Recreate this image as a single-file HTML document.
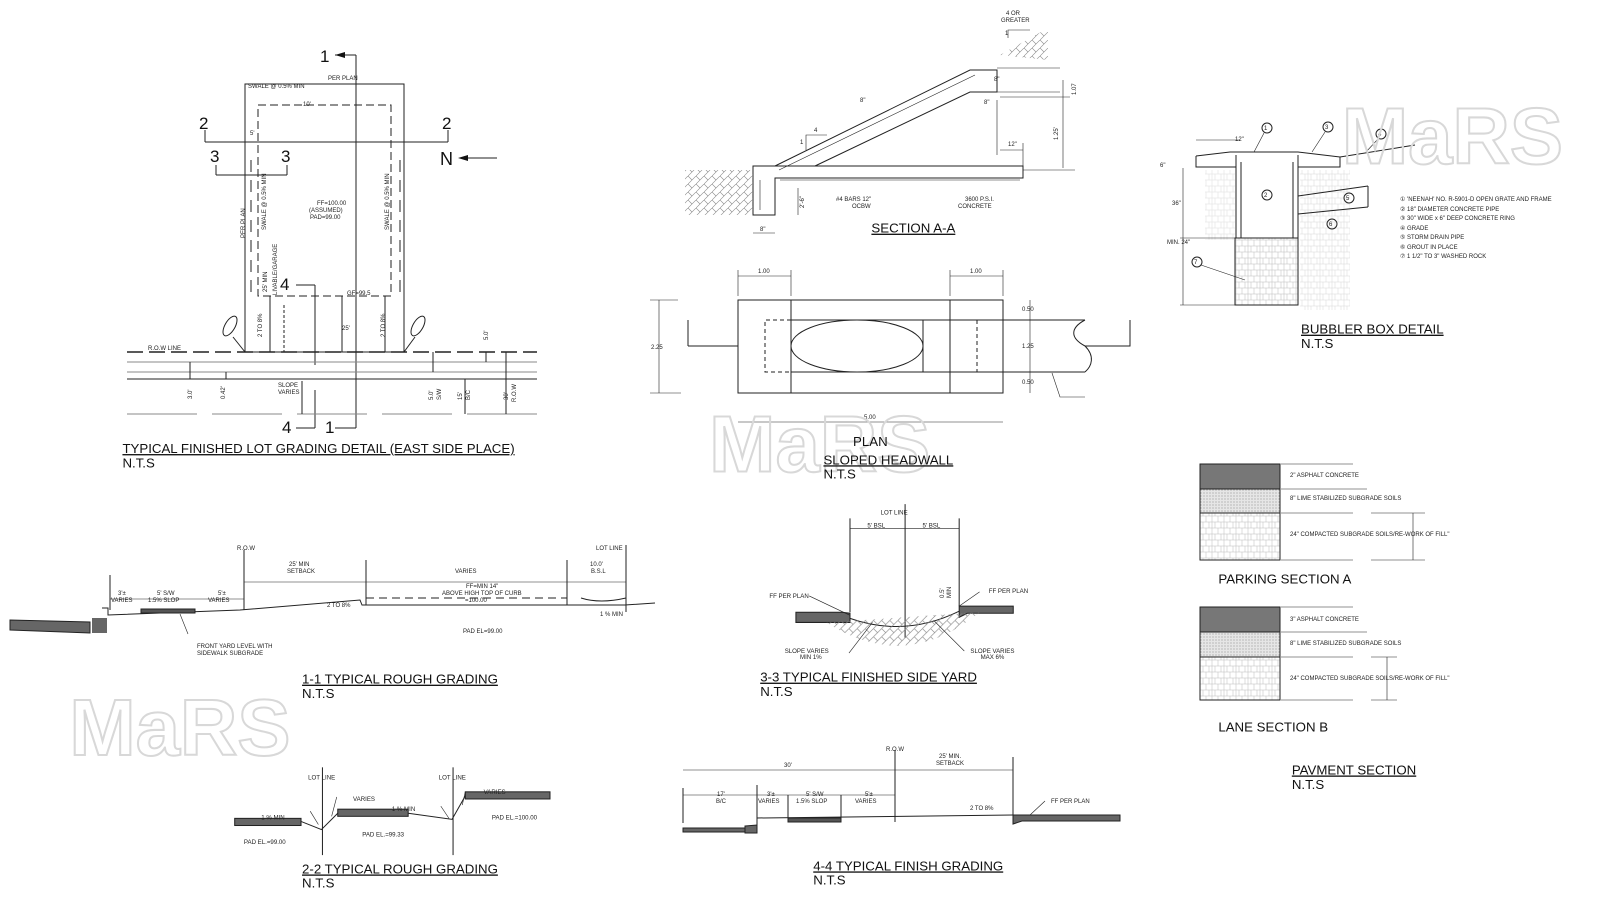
<!DOCTYPE html>
<html><head><meta charset="utf-8"><style>
html,body{margin:0;padding:0;background:#fff;}
svg{display:block;font-family:"Liberation Sans",sans-serif;}
.s{font-size:6px;fill:#222;}
.t{font-size:13px;fill:#111;}
.wm{font-size:78px;font-weight:bold;fill:none;stroke:#d8d8d8;stroke-width:2;font-family:"Liberation Sans",sans-serif;}
</style></head><body>
<svg width="1600" height="900" viewBox="0 0 1600 900" xmlns="http://www.w3.org/2000/svg">
<defs>
<pattern id="hx" width="8" height="8" patternUnits="userSpaceOnUse">
<path d="M0 8L8 0M0 0L4 4" stroke="#888" stroke-width="0.6"/>
</pattern>
<pattern id="br" width="12" height="12" patternUnits="userSpaceOnUse">
<path d="M0 0H12V12H0Z M6 0V6 M0 6H12 M3 6V12 M9 6V12" stroke="#bbb" stroke-width="0.5" fill="none"/>
</pattern>
<pattern id="dt" width="3" height="3" patternUnits="userSpaceOnUse">
<rect width="3" height="3" fill="#e6e6e6"/><circle cx="1" cy="1" r="0.6" fill="#999"/>
</pattern>
</defs>
<rect width="1600" height="900" fill="#fff"/>

<g stroke="#222" stroke-width="1" fill="none">
<!-- LOT GRADING -->
<rect x="245" y="84" width="159" height="268"/>
<rect x="258" y="105" width="133" height="191" stroke-dasharray="8,4"/>
<line x1="356" y1="55" x2="356" y2="428"/>
<line x1="335" y1="55" x2="356" y2="55"/>
<line x1="335" y1="428" x2="356" y2="428"/>
<line x1="205" y1="142" x2="448" y2="142"/>
<line x1="205" y1="142" x2="205" y2="130"/><line x1="448" y1="142" x2="448" y2="130"/>
<line x1="216" y1="175" x2="287" y2="175"/>
<line x1="216" y1="175" x2="216" y2="165"/><line x1="287" y1="175" x2="287" y2="165"/>
<line x1="315" y1="285" x2="315" y2="365"/><line x1="315" y1="390" x2="315" y2="428"/>
<line x1="296" y1="285" x2="315" y2="285"/><line x1="296" y1="428" x2="315" y2="428"/>
<line x1="465" y1="158" x2="497" y2="158"/>
<line x1="127" y1="352" x2="537" y2="352" stroke-width="1.5" stroke-dasharray="16,6"/>
<line x1="127" y1="362" x2="537" y2="362" stroke="#888"/>
<line x1="127" y1="372" x2="537" y2="372" stroke="#888"/>
<line x1="127" y1="379" x2="537" y2="379"/>
<line x1="127" y1="414" x2="537" y2="414" stroke="#888" stroke-dasharray="70,15"/>
<line x1="270" y1="296" x2="270" y2="352"/><line x1="342" y1="296" x2="342" y2="352"/><line x1="385" y1="296" x2="385" y2="352"/>
<line x1="251" y1="160" x2="251" y2="300" stroke-dasharray="12,8"/>
<line x1="400" y1="160" x2="400" y2="300" stroke-dasharray="12,8"/>
<line x1="284" y1="305" x2="284" y2="352" stroke-dasharray="3,2"/>
<ellipse cx="230" cy="326" rx="5" ry="11" transform="rotate(30 230 326)"/>
<ellipse cx="418" cy="326" rx="5" ry="11" transform="rotate(30 418 326)"/>
<line x1="233" y1="337" x2="245" y2="352"/><line x1="415" y1="337" x2="404" y2="352"/>
<line x1="190" y1="362" x2="190" y2="379"/><line x1="226" y1="372" x2="226" y2="379"/>
<line x1="433" y1="352" x2="433" y2="372"/><line x1="465" y1="379" x2="465" y2="414"/><line x1="506" y1="352" x2="506" y2="414"/><line x1="486" y1="352" x2="486" y2="362"/>
<line x1="302" y1="381" x2="302" y2="414"/>

<!-- SECTION A-A -->
<path d="M753 166 H1023 V178 H775 V215 H753 Z"/>
<path d="M775 166 L970 70 H997 V92 H970 L815 166" />
<line x1="780" y1="180" x2="1020" y2="180" stroke-width="0.6"/>
<line x1="760" y1="180" x2="760" y2="210" stroke-width="0.6"/>
<line x1="779" y1="170" x2="975" y2="75" stroke-width="0.6"/>
<rect x="685" y="170" width="68" height="45" fill="url(#hx)" stroke="none"/>
<path d="M1000 55 L1048 28 V60 Z" fill="url(#hx)" stroke="none"/>
<line x1="997" y1="68" x2="1060" y2="68" stroke-width="0.6"/>
<line x1="997" y1="92" x2="1060" y2="92" stroke-width="0.6"/>
<line x1="1000" y1="97" x2="1070" y2="97" stroke-width="0.6"/>
<line x1="1063" y1="80" x2="1063" y2="100" stroke-width="0.6"/>
<line x1="1063" y1="100" x2="1063" y2="168" stroke-width="0.6"/>
<line x1="1023" y1="170" x2="1075" y2="170" stroke-width="0.6"/>
<line x1="997" y1="100" x2="997" y2="155" stroke-width="0.6"/>
<line x1="1000" y1="150" x2="1023" y2="150" stroke-width="0.6"/>
<line x1="1023" y1="143" x2="1023" y2="166" stroke-width="0.6"/>
<line x1="753" y1="233" x2="775" y2="233" stroke-width="0.6"/>
<line x1="798" y1="188" x2="798" y2="215" stroke-width="0.6"/>
<path d="M806 150 V135 H827" stroke-width="0.6"/>
<path d="M1008 38 V30 H1030" stroke-width="0.6"/>

<!-- PLAN -->
<rect x="738" y="300" width="265" height="93"/>
<line x1="791" y1="300" x2="791" y2="393"/>
<line x1="950" y1="300" x2="950" y2="393"/>
<line x1="791" y1="320" x2="1085" y2="320"/>
<line x1="791" y1="372" x2="1085" y2="372"/>
<path d="M791 320 H765 V372 H791" stroke-dasharray="4,3"/>
<line x1="923" y1="320" x2="923" y2="372"/>
<line x1="977" y1="320" x2="977" y2="372" stroke-dasharray="4,3"/>
<ellipse cx="857" cy="346" rx="66" ry="26"/>
<path d="M1085 320 C1070 328 1070 338 1085 346 C1095 356 1092 366 1085 372"/>
<path d="M1085 346 H1130 V320"/>
<path d="M688 346 H738"/><line x1="688" y1="346" x2="688" y2="320"/>
<line x1="738" y1="276" x2="791" y2="276" stroke-width="0.6"/>
<line x1="950" y1="276" x2="1003" y2="276" stroke-width="0.6"/>
<line x1="738" y1="270" x2="738" y2="296" stroke-width="0.6"/>
<line x1="791" y1="270" x2="791" y2="296" stroke-width="0.6"/>
<line x1="950" y1="270" x2="950" y2="296" stroke-width="0.6"/>
<line x1="1003" y1="270" x2="1003" y2="296" stroke-width="0.6"/>
<line x1="738" y1="422" x2="1003" y2="422" stroke-width="0.6"/>
<line x1="659" y1="300" x2="659" y2="393" stroke-width="0.6"/>
<line x1="650" y1="300" x2="678" y2="300" stroke-width="0.6"/>
<line x1="650" y1="393" x2="681" y2="393" stroke-width="0.6"/>
<line x1="1030" y1="300" x2="1030" y2="393" stroke-width="0.6"/>
<path d="M1052 373 L1060 397 H1085" stroke-width="0.6"/>

<!-- BUBBLER -->
<path d="M1196 156 L1230 152 H1298 L1340 157 L1415 145" />
<path d="M1196 156 V167 H1236 M1298 167 H1340 V157"/>
<line x1="1236" y1="155" x2="1236" y2="238"/><line x1="1241" y1="162" x2="1241" y2="238"/>
<line x1="1293" y1="162" x2="1293" y2="238"/><line x1="1298" y1="155" x2="1298" y2="238"/>
<rect x="1235" y="238" width="63" height="67" fill="url(#br)"/>
<rect x="1300" y="170" width="50" height="140" fill="url(#br)" stroke="none" opacity="0.6"/>
<rect x="1205" y="170" width="30" height="70" fill="url(#br)" stroke="none" opacity="0.5"/>
<line x1="1298" y1="196" x2="1368" y2="186"/><line x1="1298" y1="214" x2="1368" y2="207"/>
<line x1="1368" y1="186" x2="1368" y2="207"/>
<line x1="1183" y1="168" x2="1183" y2="305" stroke-width="0.6"/>
<line x1="1180" y1="238" x2="1235" y2="238" stroke-width="0.6"/>
<line x1="1180" y1="305" x2="1235" y2="305" stroke-width="0.6"/>
<line x1="1196" y1="140" x2="1240" y2="140" stroke-width="0.6"/>
<circle cx="1267" cy="128" r="5"/><circle cx="1328" cy="127" r="5"/><circle cx="1381" cy="134" r="5"/>
<circle cx="1267" cy="195" r="5"/><circle cx="1349" cy="198" r="5"/><circle cx="1332" cy="224" r="5"/><circle cx="1197" cy="262" r="5"/>
<line x1="1264" y1="133" x2="1254" y2="152" stroke-width="0.6"/>
<line x1="1325" y1="132" x2="1312" y2="152" stroke-width="0.6"/>
<line x1="1378" y1="139" x2="1366" y2="152" stroke-width="0.6"/>
<line x1="1201" y1="265" x2="1245" y2="280" stroke-width="0.6"/>

<!-- 1-1 -->
<path d="M102 608 L108 608 L108 615 L240 610 L360 600 L362 605 H625 L655 603" />
<path d="M10 630 L90 633 V622 L10 620 Z" fill="#666"/>
<rect x="92" y="618" width="15" height="15" fill="#666" stroke="none"/>
<rect x="141" y="609" width="54" height="4" fill="#555"/>
<line x1="110" y1="575" x2="110" y2="610"/>
<line x1="244" y1="550" x2="244" y2="610"/>
<line x1="366" y1="560" x2="366" y2="605"/>
<line x1="567" y1="560" x2="567" y2="605"/>
<line x1="626" y1="545" x2="626" y2="612"/>
<line x1="110" y1="599" x2="244" y2="599" stroke-width="0.6"/>
<line x1="244" y1="582" x2="626" y2="582" stroke-width="0.6"/>
<line x1="366" y1="598" x2="567" y2="598" stroke-dasharray="8,5"/>
<path d="M581 598 Q600 604 626 598"/>
<line x1="180" y1="614" x2="188" y2="634" stroke-width="0.6"/>

<!-- 4-4 -->
<line x1="683" y1="770" x2="1013" y2="770" stroke-width="0.6"/>
<line x1="683" y1="795" x2="895" y2="795" stroke-width="0.6"/>
<line x1="683" y1="788" x2="683" y2="823"/>
<line x1="757" y1="785" x2="757" y2="825"/><line x1="788" y1="795" x2="788" y2="822"/>
<line x1="841" y1="795" x2="841" y2="820"/><line x1="895" y1="750" x2="895" y2="822"/>
<line x1="1013" y1="757" x2="1013" y2="818"/>
<path d="M683 828 H745 V832 H683 Z" fill="#666"/>
<path d="M745 826 L757 825 V833 H745 Z" fill="#666"/>
<path d="M757 818 L1013 815"/>
<rect x="788" y="818" width="53" height="4" fill="#555"/>
<path d="M1013 815 H1120 V821 H1022 L1013 824 Z" fill="#666"/>
<line x1="1030" y1="815" x2="1045" y2="801" stroke-width="0.6"/>

<!-- PAVEMENT -->
<rect x="1200" y="464" width="80" height="25" fill="#777"/>
<rect x="1200" y="489" width="80" height="24" fill="url(#dt)"/>
<rect x="1200" y="513" width="80" height="47" fill="url(#br)"/>
<rect x="1200" y="607" width="80" height="25" fill="#777"/>
<rect x="1200" y="632" width="80" height="25" fill="url(#dt)"/>
<rect x="1200" y="657" width="80" height="43" fill="url(#br)"/>
<g stroke-width="0.6">
<path d="M1281 464 H1353 M1281 489 H1367 M1281 513 H1353 M1371 513 H1425 M1281 560 H1353 M1371 560 H1425 M1413 513 V560"/>
<path d="M1281 607 H1353 M1281 632 H1367 M1281 657 H1353 M1371 657 H1397 M1281 700 H1353 M1371 700 H1397 M1387 657 V700"/>
</g>
</g>

<g class="s">
<text x="328" y="80">PER PLAN</text>
<text x="248" y="88">SWALE @ 0.5% MIN</text>
<text x="303" y="106">10'</text>
<text x="250" y="135">5'</text>
<text x="317" y="205">FF=100.00</text><text x="309" y="212">(ASSUMED)</text><text x="310" y="219">PAD=99.00</text>
<text x="347" y="295">GF=99.5</text>
<text x="342" y="330">25'</text>
<text x="148" y="350">R.O.W LINE</text>
<text x="278" y="387">SLOPE</text><text x="278" y="394">VARIES</text>
<text transform="translate(245 238) rotate(-90)">PER PLAN</text>
<text transform="translate(266 230) rotate(-90)">SWALE @ 0.5% MIN</text>
<text transform="translate(389 230) rotate(-90)">SWALE @ 0.5% MIN</text>
<text transform="translate(267 292) rotate(-90)">25' MIN</text>
<text transform="translate(277 295) rotate(-90)">LIVABLE/GARAGE</text>
<text transform="translate(262 337) rotate(-90)">2 TO 8%</text>
<text transform="translate(385 337) rotate(-90)">2 TO 8%</text>
<text transform="translate(192 399) rotate(-90)">3.0'</text>
<text transform="translate(225 399) rotate(-90)">0.42'</text>
<text transform="translate(433 400) rotate(-90)">5.0'</text><text transform="translate(441 400) rotate(-90)">S/W</text>
<text transform="translate(462 400) rotate(-90)">15'</text><text transform="translate(470 400) rotate(-90)">B/C</text>
<text transform="translate(508 400) rotate(-90)">30'</text><text transform="translate(516 402) rotate(-90)">R.O.W</text>
<text transform="translate(488 340) rotate(-90)">5.0'</text>

<text x="1006" y="15">4 OR</text><text x="1001" y="22">GREATER</text><text x="1005" y="35">1</text>
<text x="994" y="81">8"</text><text x="984" y="104">8"</text><text x="1008" y="146">12"</text>
<text transform="translate(1076 95) rotate(-90)">1.07</text>
<text transform="translate(1058 140) rotate(-90)">1.25'</text>
<text x="860" y="102">8"</text><text x="814" y="132">4</text><text x="800" y="144">1</text>
<text x="836" y="201">#4 BARS 12"</text><text x="852" y="208">OCBW</text>
<text x="965" y="201">3600 P.S.I.</text><text x="958" y="208">CONCRETE</text>
<text transform="translate(804 208) rotate(-90)">2'-6"</text>
<text x="760" y="231">8"</text>
<text x="758" y="273">1.00</text><text x="970" y="273">1.00</text>
<text x="651" y="349">2.25</text>
<text x="1022" y="311">0.50</text><text x="1022" y="348">1.25</text><text x="1022" y="384">0.50</text>
<text x="864" y="419">5.00</text>

<text x="1235" y="141">12"</text><text x="1160" y="167">6"</text>
<text x="1172" y="205">36"</text><text x="1167" y="244">MIN. 24"</text>
<text x="1264" y="197">2</text><text x="1346" y="200">5</text><text x="1329" y="226">6</text><text x="1194" y="264">7</text>
<text x="1264" y="130">1</text><text x="1325" y="129">3</text><text x="1378" y="136">4</text>
<text x="1400" y="201">①   'NEENAH' NO. R-5901-D OPEN GRATE AND FRAME</text>
<text x="1400" y="211">②   18" DIAMETER CONCRETE PIPE</text>
<text x="1400" y="220">③   30" WIDE x 6" DEEP CONCRETE RING</text>
<text x="1400" y="230">④   GRADE</text>
<text x="1400" y="239">⑤   STORM DRAIN PIPE</text>
<text x="1400" y="249">⑥   GROUT IN PLACE</text>
<text x="1400" y="258">⑦   1 1/2" TO 3" WASHED ROCK</text>

<text x="237" y="550">R.O.W</text><text x="596" y="550">LOT LINE</text>
<text x="289" y="566">25' MIN</text><text x="287" y="573">SETBACK</text>
<text x="455" y="573">VARIES</text><text x="590" y="566">10.0'</text><text x="591" y="573">B.S.L</text>
<text x="118" y="595">3'±</text><text x="111" y="602">VARIES</text>
<text x="157" y="595">5' S/W</text><text x="148" y="602">1.5% SLOP</text>
<text x="218" y="595">5'±</text><text x="208" y="602">VARIES</text>
<text x="327" y="607">2 TO 8%</text>
<text x="466" y="588">FF=MIN 14"</text><text x="442" y="595">ABOVE HIGH TOP OF CURB</text><text x="465" y="602">=100.00</text>
<text x="600" y="616">1 % MIN</text><text x="463" y="633">PAD EL=99.00</text>
<text x="197" y="648">FRONT YARD LEVEL WITH</text><text x="197" y="655">SIDEWALK SUBGRADE</text>

<text x="886" y="751">R.O.W</text><text x="939" y="758">25' MIN.</text><text x="936" y="765">SETBACK</text>
<text x="784" y="767">30'</text>
<text x="717" y="796">17'</text><text x="716" y="803">B/C</text>
<text x="767" y="796">3'±</text><text x="758" y="803">VARIES</text>
<text x="806" y="796">5' S/W</text><text x="796" y="803">1.5% SLOP</text>
<text x="865" y="796">5'±</text><text x="855" y="803">VARIES</text>
<text x="970" y="810">2 TO 8%</text><text x="1051" y="803">FF PER PLAN</text>

<text x="1290" y="477">2" ASPHALT CONCRETE</text>
<text x="1290" y="500">8" LIME STABILIZED SUBGRADE SOILS</text>
<text x="1290" y="536">24" COMPACTED SUBGRADE SOILS/RE-WORK OF FILL"</text>
<text x="1290" y="621">3" ASPHALT CONCRETE</text>
<text x="1290" y="645">8" LIME STABILIZED SUBGRADE SOILS</text>
<text x="1290" y="680">24" COMPACTED SUBGRADE SOILS/RE-WORK OF FILL"</text>
</g>

<g style="font-size:17px" fill="#111">
<text x="320" y="62">1</text><text x="325" y="433">1</text>
<text x="199" y="129">2</text><text x="442" y="129">2</text>
<text x="210" y="162">3</text><text x="281" y="162">3</text>
<text x="280" y="290">4</text><text x="282" y="433">4</text>
<text x="440" y="165" style="font-size:18px">N</text>
</g>
<g fill="#111">
<path d="M335 52 L345 55 L335 58Z" transform="rotate(180 340 55)"/>
<path d="M458 158 L468 155 V161Z"/>
</g>

<!-- SCALED GROUP -->
<g transform="scale(1.0204)">
<text class="wm" x="1315" y="160">MaRS</text>
<text class="wm" x="695" y="462">MaRS</text>
<text class="wm" x="68" y="740">MaRS</text>

<g stroke="#222" stroke-width="1" fill="none">
<!-- 2-2 -->
<line x1="316" y1="752" x2="316" y2="838"/><line x1="444" y1="752" x2="444" y2="838"/>
<rect x="230" y="802" width="65" height="7" fill="#666"/>
<rect x="331" y="793" width="69" height="7" fill="#666"/>
<rect x="456" y="776" width="83" height="7" fill="#666"/>
<path d="M295 805 L315 813 L331 797"/><path d="M400 797 L443 803 L456 780"/>
<line x1="312" y1="808" x2="304" y2="795" stroke-width="0.6"/><line x1="325" y1="800" x2="330" y2="781" stroke-width="0.6"/>
<line x1="440" y1="802" x2="432" y2="790" stroke-width="0.6"/><line x1="453" y1="789" x2="456" y2="776" stroke-width="0.6"/>

<!-- 3-3 -->
<line x1="887" y1="494" x2="887" y2="625"/>
<line x1="833" y1="508" x2="833" y2="600"/><line x1="940" y1="508" x2="940" y2="594"/>
<line x1="833" y1="518" x2="940" y2="518" stroke-width="0.6"/>
<path d="M780 600 H825 L833 601 V610 H780 Z" fill="#666"/>
<path d="M940 594 H993 V601 H948 L940 605 Z" fill="#666"/>
<path d="M833 606 Q887 625 940 599"/>
<path d="M810 610 Q887 660 960 600 Z" fill="url(#hx)" stroke="none"/>
<line x1="793" y1="584" x2="833" y2="603" stroke-width="0.6"/>
<line x1="960" y1="580" x2="940" y2="594" stroke-width="0.6"/>
<line x1="832" y1="640" x2="855" y2="610" stroke-width="0.6"/>
<line x1="945" y1="638" x2="915" y2="608" stroke-width="0.6"/>
</g>

<g class="s">
<text x="302" y="764">LOT LINE</text><text x="430" y="764">LOT LINE</text>
<text x="346" y="785">VARIES</text><text x="474" y="778">VARIES</text>
<text x="256" y="803">1 % MIN</text><text x="384" y="795">1 % MIN</text>
<text x="239" y="827">PAD EL.=99.00</text><text x="355" y="820">PAD EL.=99.33</text><text x="482" y="803">PAD EL.=100.00</text>

<text x="863" y="504">LOT LINE</text><text x="850" y="517">5' BSL</text><text x="904" y="517">5' BSL</text>
<text x="754" y="586">FF PER PLAN</text><text x="969" y="581">FF PER PLAN</text>
<text x="769" y="640">SLOPE VARIES</text><text x="784" y="646">MIN 1%</text>
<text x="951" y="640">SLOPE VARIES</text><text x="961" y="646">MAX 6%</text>
<text transform="translate(925 586) rotate(-90)">0.5'</text><text transform="translate(932 586) rotate(-90)">MIN</text>
</g>

<g class="t">
<text x="120" y="444" text-decoration="underline">TYPICAL FINISHED LOT GRADING DETAIL (EAST SIDE PLACE)</text>
<text x="120" y="458">N.T.S</text>
<text x="854" y="228" text-decoration="underline">SECTION A-A</text>
<text x="836" y="437">PLAN</text>
<text x="807" y="455" text-decoration="underline">SLOPED HEADWALL</text>
<text x="807" y="469">N.T.S</text>
<text x="1275" y="327" text-decoration="underline">BUBBLER BOX DETAIL</text>
<text x="1275" y="341">N.T.S</text>
<text x="296" y="670" text-decoration="underline">1-1 TYPICAL ROUGH GRADING</text>
<text x="296" y="684">N.T.S</text>
<text x="296" y="856" text-decoration="underline">2-2 TYPICAL ROUGH GRADING</text>
<text x="296" y="870">N.T.S</text>
<text x="745" y="668" text-decoration="underline">3-3 TYPICAL FINISHED SIDE YARD</text>
<text x="745" y="682">N.T.S</text>
<text x="797" y="853" text-decoration="underline">4-4 TYPICAL FINISH GRADING</text>
<text x="797" y="867">N.T.S</text>
<text x="1194" y="572">PARKING SECTION A</text>
<text x="1194" y="717">LANE SECTION B</text>
<text x="1266" y="759" text-decoration="underline">PAVMENT SECTION</text>
<text x="1266" y="773">N.T.S</text>
</g>
</g>
</svg>
</body></html>
